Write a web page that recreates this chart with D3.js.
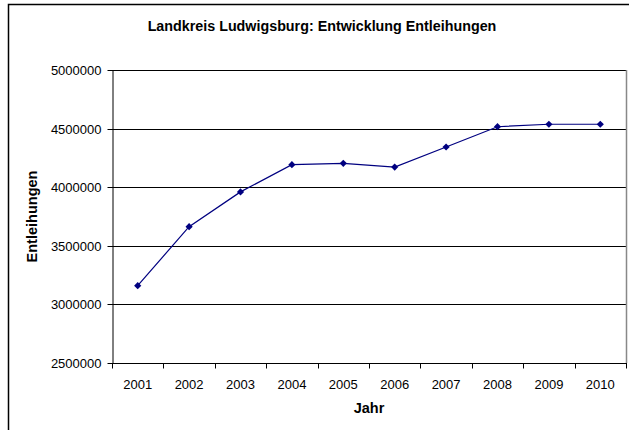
<!DOCTYPE html>
<html>
<head>
<meta charset="utf-8">
<script src="https://cdn.jsdelivr.net/npm/d3@7"></script>
<style>
    body { margin: 0; background: #fff; }
    svg { display: block; font-family: Arial, "Liberation Sans", sans-serif; }
    .axis text { font-size: 13px; fill: #000; }
    .axis path, .axis line { stroke: #000; }
</style>
</head>
<body>
<svg></svg>
<script>
// DATA
const years = ['2001', '2002', '2003', '2004', '2005', '2006', '2007', '2008', '2009', '2010'];
const loans = [3160000, 3663000, 3960000, 4192000, 4204000, 4172000, 4343000, 4516000, 4537000, 4537000];
const yTicks = [2500000, 3000000, 3500000, 4000000, 4500000, 5000000];

const WIDTH = 629, HEIGHT = 430;
const plot = { left: 112, top: 70, right: 626, bottom: 363 };

var svg = d3.select('svg')
    .attr('width', WIDTH)
    .attr('height', HEIGHT);

// outer frame (only top and left visible)
svg.append('path')
    .attr('d', 'M8.5,' + HEIGHT + 'V4.5H' + WIDTH)
    .attr('fill', 'none')
    .attr('stroke', '#000')
    .attr('stroke-width', 1.5);

// SCALES
var x = d3.scaleBand()
    .domain(years)
    .range([plot.left, plot.right]);

var y = d3.scaleLinear()
    .domain([2500000, 5000000])
    .range([plot.bottom, plot.top]);

// gridlines
svg.append('g')
    .selectAll('line')
    .data(yTicks.slice(1))
    .join('line')
    .attr('x1', plot.left)
    .attr('x2', plot.right)
    .attr('y1', d => Math.round(y(d)) + 0.5)
    .attr('y2', d => Math.round(y(d)) + 0.5)
    .attr('stroke', '#000')
    .attr('stroke-width', 1);

// right border of plot area
svg.append('line')
    .attr('x1', plot.right + 0.5)
    .attr('x2', plot.right + 0.5)
    .attr('y1', plot.top)
    .attr('y2', plot.bottom)
    .attr('stroke', '#888')
    .attr('stroke-width', 1.5);

// AXES
var yAxis = d3.axisLeft(y)
    .tickValues(yTicks)
    .tickFormat(d3.format('d'))
    .tickSizeInner(5)
    .tickSizeOuter(0)
    .tickPadding(6);

svg.append('g')
    .attr('class', 'axis axis--y')
    .attr('transform', 'translate(' + (plot.left + 0.5) + ',0)')
    .call(yAxis)
    .call(g => g.selectAll('.tick').attr('transform', d => 'translate(0,' + (Math.round(y(d)) + 0.5) + ')'));

// x ticks sit on band borders
var xEdges = years.map(d => x(d)).concat([plot.right]);

var gx = svg.append('g')
    .attr('class', 'axis axis--x')
    .attr('transform', 'translate(0,' + (plot.bottom + 0.5) + ')');

gx.append('line')
    .attr('x1', plot.left)
    .attr('x2', plot.right + 1)
    .attr('stroke', '#000');

gx.selectAll('.edge')
    .data(xEdges)
    .join('line')
    .attr('class', 'edge')
    .attr('x1', d => Math.round(d) + 0.5)
    .attr('x2', d => Math.round(d) + 0.5)
    .attr('y1', 0)
    .attr('y2', 5)
    .attr('stroke', '#000');

gx.selectAll('text')
    .data(years)
    .join('text')
    .attr('x', d => x(d) + x.bandwidth() / 2)
    .attr('y', 25)
    .attr('text-anchor', 'middle')
    .text(d => d);

// LINE
var line = d3.line()
    .x((d, i) => x(years[i]) + x.bandwidth() / 2)
    .y(d => y(d));

svg.append('path')
    .datum(loans)
    .attr('d', line)
    .attr('fill', 'none')
    .attr('stroke', '#000080')
    .attr('stroke-width', 1.2);

svg.append('g')
    .selectAll('path')
    .data(loans)
    .join('path')
    .attr('d', d3.symbol(d3.symbolSquare, 26))
    .attr('transform', (d, i) => 'translate(' + (x(years[i]) + x.bandwidth() / 2) + ',' + y(d) + ') rotate(45)')
    .attr('fill', '#000080');

// TITLES
svg.append('text')
    .attr('x', 322)
    .attr('y', 31)
    .attr('text-anchor', 'middle')
    .attr('font-size', 14.3)
    .attr('font-weight', 'bold')
    .text('Landkreis Ludwigsburg: Entwicklung Entleihungen');

svg.append('text')
    .attr('x', (plot.left + plot.right) / 2)
    .attr('y', 413)
    .attr('text-anchor', 'middle')
    .attr('font-size', 14.5)
    .attr('font-weight', 'bold')
    .text('Jahr');

svg.append('text')
    .attr('transform', 'translate(37,' + ((plot.top + plot.bottom) / 2) + ') rotate(-90)')
    .attr('text-anchor', 'middle')
    .attr('font-size', 14.5)
    .attr('font-weight', 'bold')
    .text('Entleihungen');
</script>
</body>
</html>
